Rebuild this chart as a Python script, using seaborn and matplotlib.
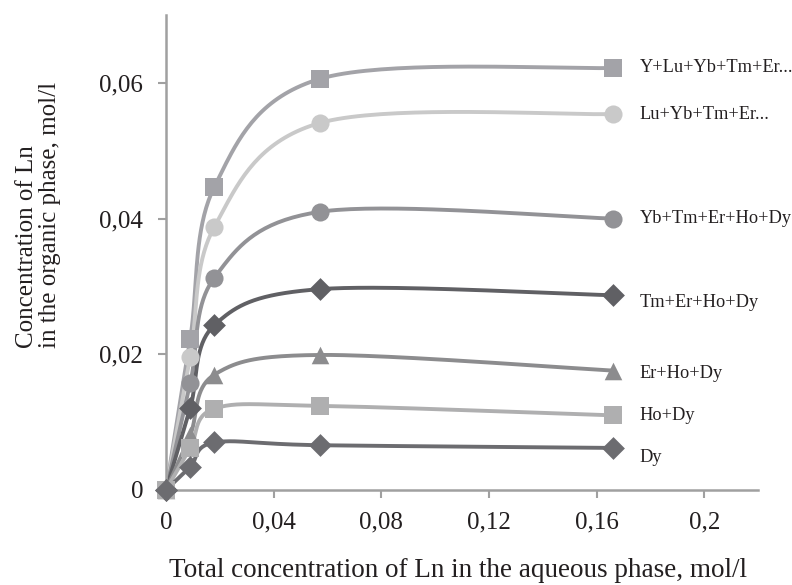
import numpy as np
import pandas as pd
import matplotlib
matplotlib.use("Agg")
import matplotlib.pyplot as plt
import seaborn as sns

# ------------- datos -------------
x_total = [0.0, 0.009, 0.018, 0.0573, 0.166]

series_names = ["Y+Lu+Yb+Tm+Er...", "Lu+Yb+Tm+Er...", "Yb+Tm+Er+Ho+Dy",
                "Tm+Er+Ho+Dy", "Er+Ho+Dy", "Ho+Dy", "Dy"]

y_s1 = [0.0, 0.0223, 0.0447, 0.0606, 0.0622]
y_s2 = [0.0, 0.0196, 0.0388, 0.0541, 0.0554]
y_s3 = [0.0, 0.0157, 0.0313, 0.0410, 0.0400]
y_s4 = [0.0, 0.0121, 0.0243, 0.0296, 0.0287]
y_s5 = [0.0, 0.0081, 0.0170, 0.0199, 0.0176]
y_s6 = [0.0, 0.0062, 0.0120, 0.0124, 0.0110]
y_s7 = [0.0, 0.0034, 0.0070, 0.0066, 0.0062]

x_ticks = [0, 0.04, 0.08, 0.12, 0.16, 0.2]
x_tick_labels = ["0", "0,04", "0,08", "0,12", "0,16", "0,2"]
y_ticks = [0, 0.02, 0.04, 0.06]
y_tick_labels = ["0", "0,02", "0,04", "0,06"]

# estilo por serie
colores = ["#a3a3a8", "#c9c9c9", "#929296", "#606064", "#8c8c8e", "#afafb0", "#6c6c70"]
marcadores = ["s", "o", "o", "D", "^", "s", "D"]
tamanos = [150, 170, 170, 135, 160, 150, 135]
label_offset = [0, 0, 0, -5, -2, 0, -7]


def suavizar(x, y, n=40):
    # curva suavizada tipo Excel (Bezier con puntos de control a 1/6)
    p = np.column_stack([x, y])
    out = []
    for i in range(len(p) - 1):
        p0 = p[i - 1] if i > 0 else p[i]
        p1 = p[i]
        p2 = p[i + 1]
        p3 = p[i + 2] if i + 2 < len(p) else p[i + 1]
        c1 = p1 + (p2 - p0) / 6
        c2 = p2 - (p3 - p1) / 6
        t = np.linspace(0, 1, n)[:, None]
        seg = ((1 - t) ** 3) * p1 + 3 * ((1 - t) ** 2) * t * c1 + 3 * (1 - t) * t ** 2 * c2 + t ** 3 * p2
        out.append(seg if i == 0 else seg[1:])
    out = np.vstack(out)
    return out[:, 0], out[:, 1]


# ------------- gráfico -------------
sns.set_style("ticks")
plt.rcParams["font.family"] = ["Liberation Serif", "DejaVu Serif"]

fig = plt.figure(figsize=(7.92, 5.85), dpi=100)
ax = fig.add_axes([0.2096, 0.1624, 0.7475, 0.812])

todas = [y_s1, y_s2, y_s3, y_s4, y_s5, y_s6, y_s7]
for k in range(len(todas) - 1, -1, -1):
    ys = todas[k]
    xs_s, ys_s = suavizar(x_total, ys)
    df_curva = pd.DataFrame({"x": xs_s, "y": ys_s})
    sns.lineplot(data=df_curva, x="x", y="y", ax=ax, color=colores[k], lw=2.8,
                 sort=False, estimator=None, zorder=2 + k * 0.1)
    df_pts = pd.DataFrame({"x": x_total, "y": ys})
    sns.scatterplot(data=df_pts, x="x", y="y", ax=ax, color=colores[k], marker=marcadores[k],
                    s=tamanos[k], linewidth=0, zorder=3 + k * 0.1, clip_on=False)
    ax.annotate(series_names[k], xy=(x_total[-1], ys[-1]), xytext=(19.5, label_offset[k]),
                textcoords="offset points", va="center", ha="left", fontsize=13.2,
                color="#231f20")

ax.set_xlim(0, 0.22)
ax.set_ylim(0, 0.07)
ax.set_xticks(x_ticks)
ax.set_xticklabels(x_tick_labels)
ax.set_yticks(y_ticks)
ax.set_yticklabels(y_tick_labels)
ax.tick_params(axis="both", direction="out", length=5.5, width=1.5, color="#a0a0a0",
               labelsize=18, labelcolor="#231f20")
ax.tick_params(axis="y", pad=11)
ax.tick_params(axis="x", pad=10)

for lado in ["top", "right"]:
    ax.spines[lado].set_visible(False)
for lado in ["left", "bottom"]:
    ax.spines[lado].set_color("#a0a0a0")
    ax.spines[lado].set_linewidth(1.8)

ax.set_xlabel("Total concentration of Ln in the aqueous phase, mol/l", fontsize=19.5,
              color="#231f20")
ax.xaxis.set_label_coords(0.493, -0.143)
ax.set_ylabel("Concentration of Ln\nin the organic phase, mol/l", fontsize=18,
              color="#231f20", linespacing=1.08, multialignment="left")
ax.yaxis.set_label_coords(-0.177, 0.58)

fig.savefig("out.png", dpi=100)
